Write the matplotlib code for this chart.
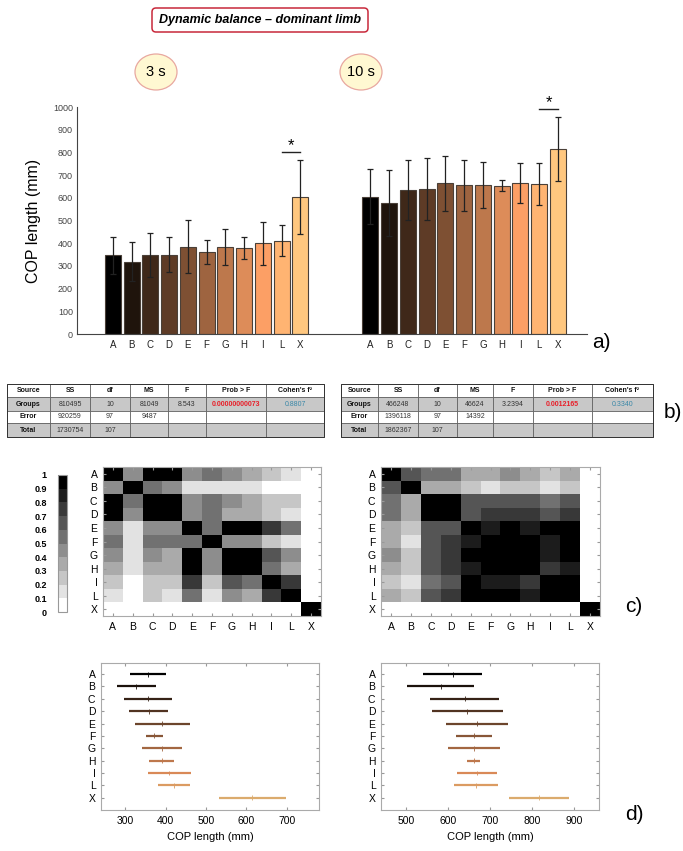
import matplotlib
matplotlib.use("Agg")
import matplotlib.pyplot as plt
import numpy as np
from matplotlib.colors import ListedColormap, BoundaryNorm
from matplotlib.patches import Ellipse, FancyBboxPatch, Rectangle

plt.rcParams['font.family'] = ['Liberation Sans', 'DejaVu Sans']

W, H = 683, 851

groups = ['A', 'B', 'C', 'D', 'E', 'F', 'G', 'H', 'I', 'L', 'X']

# a) mean +- sd COP length (mm)
mean_3s = [347, 319, 348, 350, 385, 363, 382, 380, 400, 411, 605]
sd_3s = [82, 86, 95, 78, 116, 53, 80, 48, 95, 68, 163]
mean_10s = [605, 576, 634, 639, 664, 655, 656, 653, 664, 661, 814]
sd_10s = [122, 145, 133, 138, 122, 112, 100, 24, 88, 94, 142]
star_3s = 803
star_10s = 990

# b) ANOVA tables
table_header = ['Source', 'SS', 'df', 'MS', 'F', 'Prob > F', "Cohen's f\u00b2"]
anova_3s = [['Groups', '810495', '10', '81049', '8.543', '0.00000000073', '0.8807'],
            ['Error', '920259', '97', '9487', '', '', ''],
            ['Total', '1730754', '107', '', '', '', '']]
anova_10s = [['Groups', '466248', '10', '46624', '3.2394', '0.0012165', '0.3340'],
             ['Error', '1396118', '97', '14392', '', '', ''],
             ['Total', '1862367', '107', '', '', '', '']]

# c) pairwise p-value matrices
p_3s = [[.95, .45, .95, .95, .45, .55, .45, .35, .25, .15, .05],
        [.45, .95, .55, .45, .15, .15, .15, .15, .05, .05, .05],
        [.95, .55, .95, .95, .45, .55, .45, .35, .25, .25, .05],
        [.95, .45, .95, .95, .45, .55, .35, .35, .25, .15, .05],
        [.45, .15, .45, .45, .95, .55, .95, .95, .75, .55, .05],
        [.55, .15, .55, .55, .55, .95, .45, .45, .25, .15, .05],
        [.45, .15, .45, .35, .95, .45, .95, .95, .65, .45, .05],
        [.35, .15, .35, .35, .95, .45, .95, .95, .55, .35, .05],
        [.25, .05, .25, .25, .75, .25, .65, .55, .95, .75, .05],
        [.15, .05, .25, .15, .55, .15, .45, .35, .75, .95, .05],
        [.05, .05, .05, .05, .05, .05, .05, .05, .05, .05, .95]]
p_10s = [[.95, .65, .55, .55, .35, .35, .45, .35, .25, .35, .05],
         [.65, .95, .35, .35, .25, .15, .25, .25, .15, .25, .05],
         [.55, .35, .95, .95, .65, .65, .65, .65, .55, .65, .05],
         [.55, .35, .95, .95, .65, .75, .75, .75, .65, .75, .05],
         [.35, .25, .65, .65, .95, .85, .95, .85, .95, .95, .05],
         [.35, .15, .65, .75, .85, .95, .95, .95, .85, .95, .05],
         [.45, .25, .65, .75, .95, .95, .95, .95, .85, .95, .05],
         [.35, .25, .65, .75, .85, .95, .95, .95, .75, .85, .05],
         [.25, .15, .55, .65, .95, .85, .85, .75, .95, .95, .05],
         [.35, .25, .65, .75, .95, .95, .95, .85, .95, .95, .05],
         [.05, .05, .05, .05, .05, .05, .05, .05, .05, .05, .95]]

# d) comparison intervals (centre, half width)
ci_3s_mid = [356, 327, 357, 358, 392, 372, 391, 390, 409, 421, 615]
ci_3s_half = [45, 48, 60, 48, 69, 21, 50, 30, 53, 39, 83]
ci_10s_mid = [611, 583, 640, 646, 669, 661, 663, 661, 669, 667, 817]
ci_10s_half = [70, 80, 82, 85, 73, 43, 62, 15, 47, 53, 71]

fig = plt.figure(figsize=(W / 100, H / 100), dpi=100)


def px_axes(x0, y0, x1, y1):
    return fig.add_axes([x0 / W, 1 - y1 / H, (x1 - x0) / W, (y1 - y0) / H])


ov = fig.add_axes([0, 0, 1, 1])
ov.set_xlim(0, W)
ov.set_ylim(H, 0)
ov.axis('off')

# title and time labels
ov.add_patch(FancyBboxPatch((152, 8), 216, 24, boxstyle='round,pad=0,rounding_size=4',
                            fc='white', ec='#c8283a', lw=1.1))
ov.text(260, 20.5, 'Dynamic balance \u2013 dominant limb', ha='center', va='center',
        fontsize=9, fontweight='bold', fontstyle='italic')
for cx, lab in [(156, '3 s'), (361, '10 s')]:
    ov.add_patch(Ellipse((cx, 72), 42, 36, fc='#fff8d2', ec='#e8a8a0', lw=0.9))
    ov.text(cx, 72, lab, ha='center', va='center', fontsize=10.5)

# a) bar chart
cols = plt.cm.copper(np.linspace(0, 1, 11))
xl = np.arange(11)
xr = xl + 13.73
ax = px_axes(77, 107, 587, 334)
for xs, m, s in [(xl, mean_3s, sd_3s), (xr, mean_10s, sd_10s)]:
    ax.bar(xs, m, width=0.85, color=cols, edgecolor='#4a4038', linewidth=0.8)
    ax.errorbar(xs, m, yerr=s, fmt='none', ecolor='#222222', elinewidth=0.9,
                capsize=2.5, capthick=0.9)
for xs, sy in [(xl, star_3s), (xr, star_10s)]:
    ax.plot([xs[9], xs[10]], [sy, sy], color='#222222', lw=1, clip_on=False)
    ax.text((xs[9] + xs[10]) / 2, sy - 5, '*', ha='center', va='bottom',
            fontsize=12, clip_on=False)
ax.set_xlim(-1.91, 25.28)
ax.set_ylim(0, 1000)
ax.set_yticks(range(0, 1001, 100))
ax.set_xticks(np.concatenate([xl, xr]))
ax.set_xticklabels(groups * 2)
ax.tick_params(axis='y', length=0, labelsize=6.5, labelcolor='#444444', pad=3)
ax.tick_params(axis='x', length=0, labelsize=7, labelcolor='#222222', pad=4)
ax.spines[['top', 'right']].set_visible(False)
ax.spines[['left', 'bottom']].set_color('#444444')
ax.set_ylabel('COP length (mm)', fontsize=11.5)
ax.yaxis.set_label_coords(-0.07, 0.5)
ov.text(592, 342, 'a)', ha='left', va='center', fontsize=15)

# b) tables
row_y = [384, 397.3, 410.7, 423.3, 436.7]
tables = [(anova_3s, [7, 50, 90, 130, 168, 206, 266, 324]),
          (anova_10s, [341, 378, 418, 457, 493, 533, 592, 653])]
for rows, cx in tables:
    allrows = [table_header] + rows
    for r, row in enumerate(allrows):
        fc = '#c8c8c8' if r in (1, 3) else 'white'
        for c, txt in enumerate(row):
            ov.add_patch(Rectangle((cx[c], row_y[r]), cx[c + 1] - cx[c],
                                   row_y[r + 1] - row_y[r], fc=fc, ec='#555555', lw=0.5))
            color, weight = '#333333', 'normal'
            if r == 0 or c == 0:
                weight = 'bold'
                color = '#111111'
            if r == 1 and c == 5:
                color, weight = '#e8202a', 'bold'
            if r == 1 and c == 6:
                color = '#3a88a8'
            ov.text((cx[c] + cx[c + 1]) / 2, (row_y[r] + row_y[r + 1]) / 2, txt,
                    ha='center', va='center', fontsize=5, color=color, fontweight=weight)
    ov.add_patch(Rectangle((cx[0], row_y[0]), cx[-1] - cx[0], row_y[-1] - row_y[0],
                           fc='none', ec='#333333', lw=0.7))
ov.text(664, 413, 'b)', ha='left', va='center', fontsize=15)

# c) heatmaps
levels = np.linspace(0, 1, 11)
gcmap = ListedColormap([str(v) for v in np.linspace(1, 0, 10)])
gnorm = BoundaryNorm(levels, gcmap.N)
for mat, rect in [(p_3s, (103, 467, 321, 616)), (p_10s, (381, 467, 600, 616))]:
    hx = px_axes(*rect)
    im = hx.imshow(np.array(mat), cmap=gcmap, norm=gnorm, aspect='auto',
                   interpolation='nearest')
    hx.set_xticks(range(11))
    hx.set_yticks(range(11))
    hx.set_xticklabels(groups)
    hx.set_yticklabels(groups)
    hx.tick_params(direction='in', length=2, color='#999999', top=True, right=True,
                   labelsize=7.5, pad=4)
    for sp in hx.spines.values():
        sp.set_color('#aaaaaa')
        sp.set_linewidth(0.8)
cax = px_axes(58, 475, 67, 612)
cb = fig.colorbar(im, cax=cax, ticks=levels)
cax.yaxis.set_ticks_position('left')
cb.ax.set_yticklabels(['0'] + ['%.1f' % v for v in levels[1:-1]] + ['1'])
cax.tick_params(length=0, labelsize=6.5, pad=8)
for t in cax.get_yticklabels():
    t.set_fontweight('bold')
cb.outline.set_edgecolor('#999999')
ov.text(625, 607, 'c)', ha='left', va='center', fontsize=15)

# d) comparison intervals
dcols = cols[:, :3] * 0.86
ypos = np.arange(1, 12)
for mid, half, rect, xlim, xt in [
        (ci_3s_mid, ci_3s_half, (101, 663, 319, 810), (240, 780), range(300, 701, 100)),
        (ci_10s_mid, ci_10s_half, (381, 663, 599, 810), (440, 960), range(500, 901, 100))]:
    dx = px_axes(*rect)
    mid = np.array(mid)
    half = np.array(half)
    dx.hlines(ypos, mid - half, mid + half, colors=dcols, lw=1.6)
    dx.scatter(mid, ypos, marker='|', s=12, c=dcols, linewidths=0.6, zorder=3)
    dx.set_xlim(*xlim)
    dx.set_ylim(12, 0.1)
    dx.set_xticks(list(xt))
    dx.set_yticks(ypos)
    dx.set_yticklabels(groups)
    dx.tick_params(direction='in', length=2, color='#999999', top=True, right=True,
                   labelsize=7.5, pad=4)
    for sp in dx.spines.values():
        sp.set_color('#aaaaaa')
        sp.set_linewidth(0.8)
    dx.set_xlabel('COP length (mm)', fontsize=8, labelpad=5)
ov.text(625, 815, 'd)', ha='left', va='center', fontsize=15)

fig.savefig('out.png', dpi=100)
